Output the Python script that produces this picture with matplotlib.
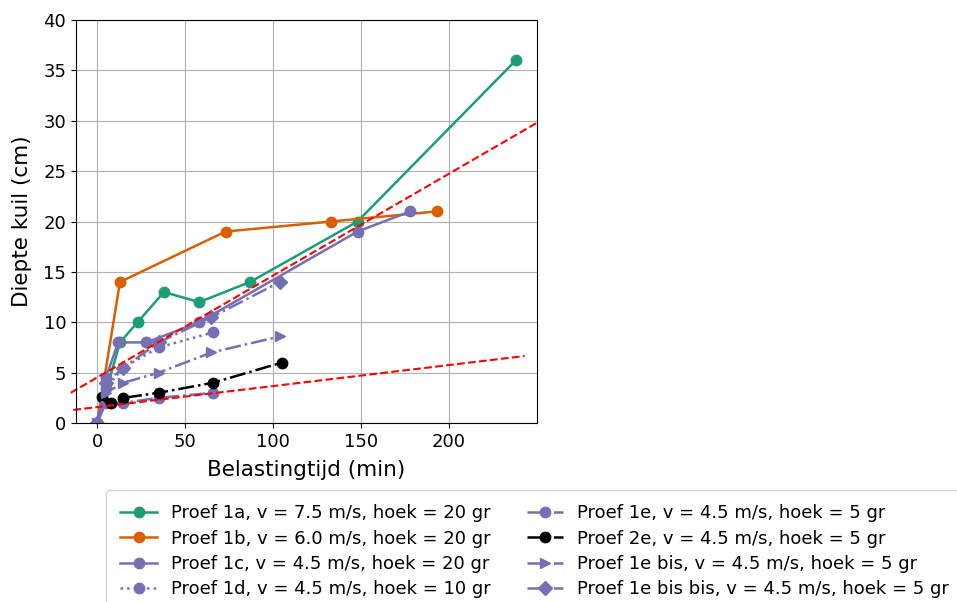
import matplotlib.pyplot as plt

# Proef series: belastingtijd (min) and diepte kuil (cm)
x_1a = [0, 13, 23, 38, 58, 87, 148, 238]
y_1a = [0, 8, 10, 13, 12, 14, 20, 36]
x_1b = [0, 13, 73, 133, 193]
y_1b = [0, 14, 19, 20, 21]
x_1c = [0, 5, 12, 28, 58, 148, 178]
y_1c = [0, 4.5, 8, 8, 10, 19, 21]
x_1d = [0, 5, 15, 35, 66]
y_1d = [0, 3.5, 5.5, 7.5, 9]
x_1e = [0, 5, 15, 35, 66]
y_1e = [0, 2.0, 2.0, 2.5, 3.0]
x_2e = [3, 8, 15, 35, 66, 105]
y_2e = [2.6, 2.0, 2.5, 3.0, 4.0, 6.0]
x_1e_bis = [0, 5, 15, 35, 65, 104]
y_1e_bis = [0, 3.0, 4.0, 5.0, 7.0, 8.6]
x_1e_bisbis = [0, 5, 15, 35, 65, 104]
y_1e_bisbis = [0, 4.0, 5.5, 8.0, 10.5, 14.0]

# red dashed trend lines (end points)
upper_x = [-15, 250]
upper_y = [3.0, 29.8]
lower_x = [-13.5, 243]
lower_y = [1.3, 6.65]

green, orange, purple = "#1b9e77", "#d95f02", "#7570b3"

fig = plt.figure(figsize=(9.57, 6.02), dpi=100)
ax = fig.add_axes([0.0794, 0.2973, 0.4817, 0.6695])

kw = dict(marker="o", markersize=7.5, linewidth=1.8)
ax.plot(x_1a, y_1a, "-", color=green, label="Proef 1a, v = 7.5 m/s, hoek = 20 gr", **kw)
ax.plot(x_1b, y_1b, "-", color=orange, label="Proef 1b, v = 6.0 m/s, hoek = 20 gr", **kw)
ax.plot(x_1c, y_1c, "-", color=purple, label="Proef 1c, v = 4.5 m/s, hoek = 20 gr", **kw)
ax.plot(x_1d, y_1d, ":", color=purple, label="Proef 1d, v = 4.5 m/s, hoek = 10 gr", **kw)
ax.plot(x_1e, y_1e, "-.", color=purple, label="Proef 1e, v = 4.5 m/s, hoek = 5 gr", **kw)
ax.plot(x_2e, y_2e, "-.", color="black", label="Proef 2e, v = 4.5 m/s, hoek = 5 gr", **kw)
kw.pop("marker")
ax.plot(x_1e_bis, y_1e_bis, "-.", marker=">", color=purple,
        label="Proef 1e bis, v = 4.5 m/s, hoek = 5 gr", **kw)
ax.plot(x_1e_bisbis, y_1e_bisbis, "-.", marker="D", color=purple,
        label="Proef 1e bis bis, v = 4.5 m/s, hoek = 5 gr", **kw)

ax.plot(upper_x, upper_y, "--", color="red", linewidth=1.5, clip_on=False)
ax.plot(lower_x, lower_y, "--", color="red", linewidth=1.5, clip_on=False)

ax.set_xlim(-12, 250)
ax.set_ylim(0, 40)
ax.set_xticks([0, 50, 100, 150, 200])
ax.grid(True)
ax.tick_params(labelsize=13)
ax.set_xlabel("Belastingtijd (min)", fontsize=15.5, labelpad=7)
ax.set_ylabel("Diepte kuil (cm)", fontsize=15.5, labelpad=8)

fig.legend(loc="upper left", bbox_to_anchor=(97 / 957, 1 - 481 / 602),
           ncol=2, fontsize=13, labelspacing=0.4, borderpad=0.8)

fig.savefig("out.png", dpi=100)
